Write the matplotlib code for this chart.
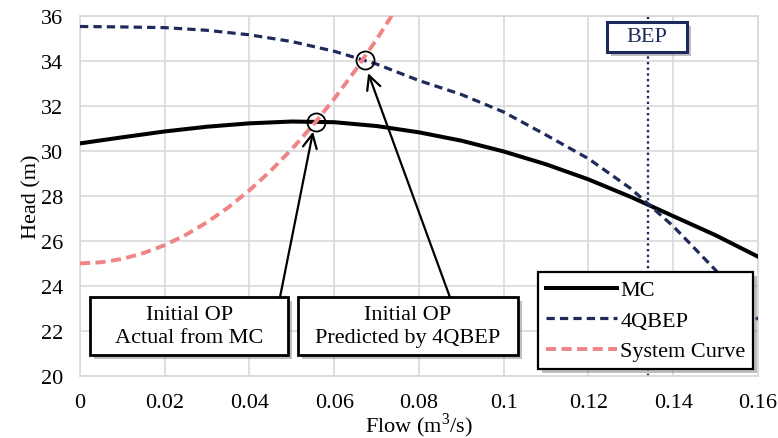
import matplotlib
matplotlib.use("Agg")
import matplotlib.pyplot as plt
import matplotlib.patheffects as pe
from matplotlib.patches import Rectangle

# Pump head curves vs flow
flow_mc = [0.0, 0.01, 0.02, 0.03, 0.04, 0.05, 0.06, 0.07, 0.08,
           0.09, 0.10, 0.11, 0.12, 0.13, 0.14, 0.15, 0.16]
head_mc = [30.33, 30.60, 30.86, 31.07, 31.22, 31.30, 31.27, 31.10, 30.82,
           30.45, 29.97, 29.40, 28.73, 27.95, 27.10, 26.25, 25.30]

flow_4q = [0.0, 0.01, 0.02, 0.03, 0.04, 0.05, 0.06, 0.07, 0.08,
           0.09, 0.10, 0.11, 0.12, 0.13, 0.14, 0.15, 0.16]
head_4q = [35.52, 35.50, 35.47, 35.35, 35.15, 34.85, 34.42, 33.85, 33.12,
           32.50, 31.72, 30.70, 29.65, 28.32, 26.65, 24.70, 22.50]

flow_sys = [0.0, 0.005, 0.01, 0.015, 0.02, 0.025, 0.03, 0.035, 0.04,
            0.045, 0.05, 0.055, 0.06, 0.065, 0.07, 0.075]
head_sys = [25.00, 25.05, 25.20, 25.46, 25.81, 26.27, 26.83, 27.49, 28.25,
            29.11, 30.08, 31.14, 32.31, 33.58, 34.95, 36.42]

op_mc = (0.0557, 31.30)
op_4q = (0.0673, 34.05)
bep_flow = 0.134

x_ticks = [0, 0.02, 0.04, 0.06, 0.08, 0.1, 0.12, 0.14, 0.16]
x_tick_labels = ["0", "0.02", "0.04", "0.06", "0.08", "0.1", "0.12", "0.14", "0.16"]
y_ticks = [20, 22, 24, 26, 28, 30, 32, 34, 36]

NAVY = "#1F2A5C"
PINK = "#F08484"
GRID = "#D9D9D9"
FS = 16

plt.rcParams["font.family"] = ["Liberation Serif", "DejaVu Serif"]
plt.rcParams["mathtext.fontset"] = "custom"
plt.rcParams["mathtext.rm"] = "Liberation Serif"

shadow = [pe.withSimplePatchShadow(offset=(3, -3), shadow_rgbFace="0.45", alpha=0.45)]


def boxed_label(ax, x0, y0, x1, y1, text, color="black", lw=2.0):
    rect = Rectangle((x0, y0), x1 - x0, y1 - y0, facecolor="white",
                     edgecolor=color, linewidth=lw, zorder=6)
    rect.set_path_effects(shadow)
    ax.add_patch(rect)
    ax.text((x0 + x1) / 2, (y0 + y1) / 2, text, ha="center", va="center",
            fontsize=FS, color=color, linespacing=1.3, zorder=7)


fig = plt.figure(figsize=(7.78, 4.39), dpi=100)
ax = fig.add_axes([0.1028, 0.1412, 0.8715, 0.8208])

ax.plot(flow_mc, head_mc, color="black", lw=2.9, label="MC", zorder=3)
ax.plot(flow_4q, head_4q, color=NAVY, lw=2.3, ls=(0, (2.6, 1.6)),
        label="4QBEP", zorder=3)
ax.plot(flow_sys, head_sys, color=PINK, lw=2.8, ls=(0, (2.6, 1.4)),
        label="System Curve", zorder=3)
ax.axvline(bep_flow, color=NAVY, lw=1.7, ls=(0, (1, 1.4)), zorder=2)

# operating points
ax.plot(*op_mc, "o", ms=13, mfc="none", mec="black", mew=1.3, zorder=4)
ax.plot(*op_4q, "o", ms=13, mfc="none", mec="black", mew=1.3, zorder=4)

arrow = dict(arrowstyle="->,head_length=0.5,head_width=0.25", color="black",
             lw=1.6, shrinkA=0, shrinkB=0, mutation_scale=20)
ax.annotate("", xy=(0.0550, 30.85), xytext=(0.0472, 23.5), arrowprops=arrow, zorder=5)
ax.annotate("", xy=(0.0680, 33.45), xytext=(0.0873, 23.5), arrowprops=arrow, zorder=5)

boxed_label(ax, 0.0024, 20.94, 0.0491, 23.5, "Initial OP\nActual from MC")
boxed_label(ax, 0.0514, 20.94, 0.1034, 23.5, "Initial OP\nPredicted by 4QBEP")
boxed_label(ax, 0.1244, 34.39, 0.1432, 35.72, "BEP", color=NAVY, lw=2.2)

ax.set_xlim(0, 0.16)
ax.set_ylim(20, 36)
ax.set_xticks(x_ticks)
ax.set_xticklabels(x_tick_labels)
ax.set_yticks(y_ticks)
ax.tick_params(length=0, labelsize=FS)
ax.tick_params(axis="x", pad=12)
ax.tick_params(axis="y", pad=12)
ax.grid(True, color=GRID, lw=1.2)
ax.set_axisbelow(True)
for s in ax.spines.values():
    s.set_color(GRID)
    s.set_linewidth(1.2)

ax.set_xlabel("Flow (m$^3$/s)", fontsize=FS, labelpad=-1)
ax.set_ylabel("Head (m)", fontsize=FS, labelpad=0)

leg = ax.legend(loc="lower right", bbox_to_anchor=(0.993, 0.019),
                borderaxespad=0, fontsize=FS, fancybox=False, framealpha=1,
                edgecolor="black", handlelength=3.2, handletextpad=0.15,
                labelspacing=0.45, borderpad=0.35)
leg.get_frame().set_linewidth(1.6)
leg.get_frame().set_path_effects(shadow)
leg.set_zorder(8)

fig.savefig("out.png", dpi=100, facecolor="white")
